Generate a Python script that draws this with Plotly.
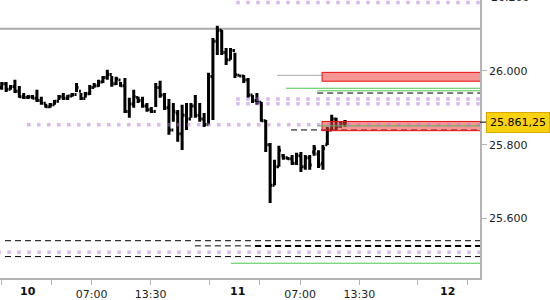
import plotly.graph_objects as go

# ---- OHLC data (bar index, prices) ----
opens = [25955, 25965, 25950, 25958, 25945, 25930, 25928, 25930, 25926, 25920,
         25912, 25903, 25908, 25918, 25930, 25926, 25932, 25936, 25945, 25925,
         25938, 25955, 25960, 25970, 25982, 25990, 25965, 25975, 25960, 25890,
         25910, 25928, 25920, 25905, 25895, 25890, 25955, 25935, 25900, 25840,
         25885, 25830, 25880, 25870, 25905, 25880, 25870, 25855, 25985, 26080,
         26110, 26050, 26030, 26055, 25988, 25986, 25975, 25935, 25920, 25915,
         25865, 25800, 25690, 25740, 25770, 25765, 25762, 25750, 25770, 25740,
         25765, 25780, 25775, 25750, 25800, 25840, 25870, 25850, 25858]
highs = [25970, 25970, 25962, 25976, 25959, 25940, 25935, 25935, 25949, 25930,
         25911, 25913, 25921, 25935, 25940, 25935, 25940, 25967, 25940, 25943,
         25962, 25967, 25976, 25986, 26003, 25986, 25984, 25970, 25981, 25927,
         25949, 25930, 25930, 25913, 25902, 25967, 25973, 25940, 25924, 25913,
         25894, 25908, 25913, 25913, 25935, 25913, 25886, 25995, 26089, 26122,
         26111, 26062, 26062, 26049, 25989, 25989, 25981, 25935, 25940, 25916,
         25867, 25805, 25759, 25797, 25775, 25767, 25772, 25778, 25780, 25772,
         25772, 25799, 25785, 25799, 25848, 25881, 25873, 25862, 25867]
lows = [25949, 25943, 25949, 25940, 25927, 25924, 25924, 25924, 25916, 25908,
        25900, 25900, 25908, 25921, 25921, 25921, 25930, 25943, 25921, 25927,
        25935, 25954, 25957, 25967, 25976, 25957, 25962, 25957, 25886, 25873,
        25900, 25913, 25900, 25889, 25886, 25902, 25927, 25894, 25827, 25862,
        25808, 25786, 25840, 25873, 25873, 25862, 25848, 25855, 25867, 26043,
        26043, 26016, 26030, 25981, 25984, 25967, 25927, 25913, 25908, 25862,
        25780, 25642, 25690, 25740, 25759, 25759, 25745, 25745, 25726, 25732,
        25732, 25770, 25737, 25732, 25799, 25840, 25840, 25846, 25848]
closes = [25965, 25950, 25958, 25945, 25930, 25928, 25930, 25926, 25920, 25912,
          25903, 25908, 25918, 25930, 25926, 25932, 25936, 25955, 25925, 25938,
          25955, 25960, 25970, 25982, 25990, 25965, 25978, 25960, 25890, 25910,
          25930, 25920, 25905, 25895, 25890, 25955, 25935, 25900, 25840, 25890,
          25830, 25880, 25870, 25905, 25880, 25870, 25855, 25985, 26080, 26110,
          26050, 26030, 26055, 25990, 25986, 25975, 25935, 25920, 25915, 25865,
          25800, 25690, 25740, 25785, 25765, 25762, 25750, 25770, 25740, 25765,
          25745, 25790, 25745, 25790, 25840, 25870, 25850, 25858, 25861.25]
bar_idx = list(range(len(opens)))

# ---- axis ----
x_range = [-0.39, 108.7]
y_range = [25439, 26192]
x_tick_vals = [0, 11.36, 20.45, 33.86, 47.18, 58.55, 67.8, 81.27, 94.45, 105.9]
x_tick_text = ["", "", "07:00", "13:30", "", "", "07:00", "13:30", "", ""]
day_pos = [6.05, 53.55, 101.3]
day_text = ["10", "11", "12"]
y_tick_vals = [25600, 25800, 26000]
y_tick_text = ["25.600", "25.800", "26.000"]
top_label_val = 26200
top_label_text = "26.200"
last_price = 25861.25
last_price_text = "25.861,25"

# ---- levels ----
gray_level = 26114
lav_levels = [26185, 25924, 25911, 25854, 25509]
lav_starts = [53.3, 53.3, 53.3, 5.75, -1]
dash_levels = [25540, 25526, 25497, 25940, 25840]
dash_starts = [0.75, 43.9, 0.75, 71.7, 65.75]
bold_dash_level = 25526
bold_dash_start = 57.6
green_levels = [25953, 25946, 25851, 25479]
green_starts = [64.6, 71.7, 71.7, 52.1]
thin_gray_level = 25988
thin_gray_span = [62.6, 72.8]
zones = [(25972, 25996), (25838, 25863)]
zone_start = 72.8

FAR = 300

fig = go.Figure()
fig.add_trace(go.Ohlc(
    x=bar_idx, open=opens, high=highs, low=lows, close=closes,
    increasing=dict(line=dict(color="black", width=3)),
    decreasing=dict(line=dict(color="black", width=3)),
    tickwidth=0.45, hoverinfo="skip", showlegend=False,
))

shapes = []
shapes.append(dict(type="line", xref="x", yref="y", x0=-5, x1=FAR, y0=gray_level, y1=gray_level,
                   line=dict(color="#aaaaaa", width=2), layer="below"))
shapes.append(dict(type="line", xref="x", yref="y", x0=thin_gray_span[0], x1=thin_gray_span[1],
                   y0=thin_gray_level, y1=thin_gray_level, line=dict(color="#aaaaaa", width=1)))
for lv, st in zip(dash_levels, dash_starts):
    shapes.append(dict(type="line", xref="x", yref="y", x0=st, x1=FAR, y0=lv, y1=lv,
                       line=dict(color="black", width=1, dash="6px,4px")))
shapes.append(dict(type="line", xref="x", yref="y", x0=bold_dash_start, x1=FAR,
                   y0=bold_dash_level, y1=bold_dash_level,
                   line=dict(color="black", width=2, dash="6px,4px")))
for lo, hi in zones:
    shapes.append(dict(type="rect", xref="x", yref="y", x0=zone_start, x1=FAR, y0=lo, y1=hi,
                       fillcolor="rgba(240,60,60,0.55)", line=dict(color="#e81010", width=1),
                       layer="above"))
for lv, st in zip(green_levels, green_starts):
    shapes.append(dict(type="line", xref="x", yref="y", x0=st, x1=FAR, y0=lv, y1=lv,
                       line=dict(color="#4cc64c", width=1)))
for lv, st in zip(lav_levels, lav_starts):
    shapes.append(dict(type="line", xref="x", yref="y", x0=st, x1=FAR, y0=lv, y1=lv,
                       line=dict(color="rgba(175,115,228,0.5)", width=3.5, dash="3.5px,6.5px"),
                       layer="above"))
# price marker tick
shapes.append(dict(type="line", xref="paper", yref="y", x0=1, x1=1.0125, y0=last_price, y1=last_price,
                   line=dict(color="black", width=1)))
fig.update_layout(shapes=shapes)

annotations = []
for p, t in zip(day_pos, day_text):
    annotations.append(dict(x=p, xref="x", y=0, yref="paper", yanchor="top", yshift=-5,
                            text="<b>%s</b>" % t, showarrow=False,
                            font=dict(family="DejaVu Sans", size=11, color="#111")))
annotations.append(dict(x=1, xref="paper", y=last_price, yref="y", xanchor="left", xshift=6,
                        text=last_price_text, showarrow=False, bgcolor="#f8d20f",
                        bordercolor="#d8aa00", borderwidth=1, borderpad=3,
                        font=dict(family="DejaVu Sans", size=11, color="black")))
top_frac = (top_label_val - y_range[0]) / (y_range[1] - y_range[0])
annotations.append(dict(x=1, xref="paper", y=top_frac, yref="paper", xanchor="left", xshift=9,
                        yanchor="middle", text=top_label_text, showarrow=False,
                        font=dict(family="DejaVu Sans", size=11, color="#222")))
fig.update_layout(annotations=annotations)

fig.update_layout(
    width=550, height=300,
    margin=dict(l=0, r=70, t=0, b=22),
    paper_bgcolor="white", plot_bgcolor="white",
    font=dict(family="DejaVu Sans", size=11, color="#222"),
    xaxis=dict(range=x_range, tickvals=x_tick_vals, ticktext=x_tick_text,
               ticks="outside", ticklen=5, tickcolor="#b4b4b4", showgrid=False,
               zeroline=False, showline=True, linecolor="#b4b4b4", linewidth=1.5,
               rangeslider=dict(visible=False), fixedrange=True),
    yaxis=dict(range=y_range, side="right", tickvals=y_tick_vals, ticktext=y_tick_text,
               ticks="outside", ticklen=5, tickcolor="#b4b4b4", showgrid=False,
               zeroline=False, showline=True, linecolor="#b4b4b4", linewidth=1.5,
               mirror=False),
)

fig.write_html("out.html")
